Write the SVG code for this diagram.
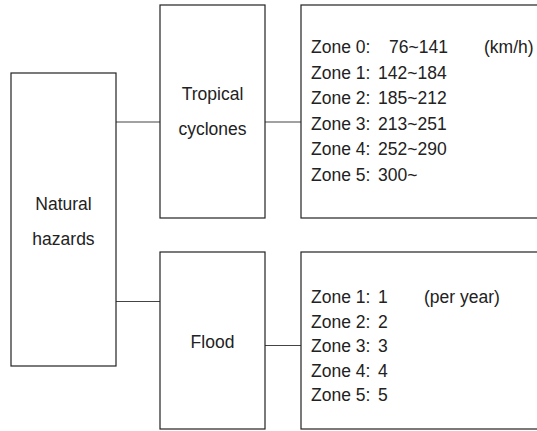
<svg xmlns="http://www.w3.org/2000/svg" width="537" height="431" viewBox="0 0 537 431">
<style>
.box{fill:#fff;stroke:#222;stroke-width:1.2}
.con{stroke:#444;stroke-width:1.2;fill:none}
text{font-family:"Liberation Sans",Arial,sans-serif;font-size:17.5px;fill:#222}
.c{text-anchor:middle}
</style>
<rect width="537" height="431" fill="#fff"/>
<g id="connectors">
<line class="con" x1="116" y1="122" x2="160" y2="122"/>
<line class="con" x1="116" y1="301.5" x2="160" y2="301.5"/>
<line class="con" x1="265" y1="122" x2="301" y2="122"/>
<line class="con" x1="265" y1="345.5" x2="301" y2="345.5"/>
</g>
<g id="natural-hazards">
<rect class="box" x="11" y="73" width="105" height="293"/>
<text class="c" x="63.5" y="210">Natural</text>
<text class="c" x="63.5" y="245">hazards</text>
</g>
<g id="tropical-cyclones">
<rect class="box" x="160" y="5" width="105" height="213"/>
<text class="c" x="212.5" y="100">Tropical</text>
<text class="c" x="212.5" y="135">cyclones</text>
</g>
<g id="flood">
<rect class="box" x="160" y="252" width="105" height="177"/>
<text class="c" x="212.5" y="348">Flood</text>
</g>
<g id="cyclone-zones">
<rect class="box" x="301" y="5" width="240" height="213"/>
<text x="311" y="53">Zone 0:<tspan x="389">76~141</tspan><tspan x="484">(km/h)</tspan></text>
<text x="311" y="78.5">Zone 1:<tspan x="378">142~184</tspan></text>
<text x="311" y="104">Zone 2:<tspan x="378">185~212</tspan></text>
<text x="311" y="129.5">Zone 3:<tspan x="378">213~251</tspan></text>
<text x="311" y="155">Zone 4:<tspan x="378">252~290</tspan></text>
<text x="311" y="180.5">Zone 5:<tspan x="378">300~</tspan></text>
</g>
<g id="flood-zones">
<rect class="box" x="301" y="252" width="240" height="177"/>
<text x="311" y="303">Zone 1:<tspan x="378">1</tspan><tspan x="424">(per year)</tspan></text>
<text x="311" y="327.5">Zone 2:<tspan x="378">2</tspan></text>
<text x="311" y="352">Zone 3:<tspan x="378">3</tspan></text>
<text x="311" y="376.5">Zone 4:<tspan x="378">4</tspan></text>
<text x="311" y="401">Zone 5:<tspan x="378">5</tspan></text>
</g>
</svg>
